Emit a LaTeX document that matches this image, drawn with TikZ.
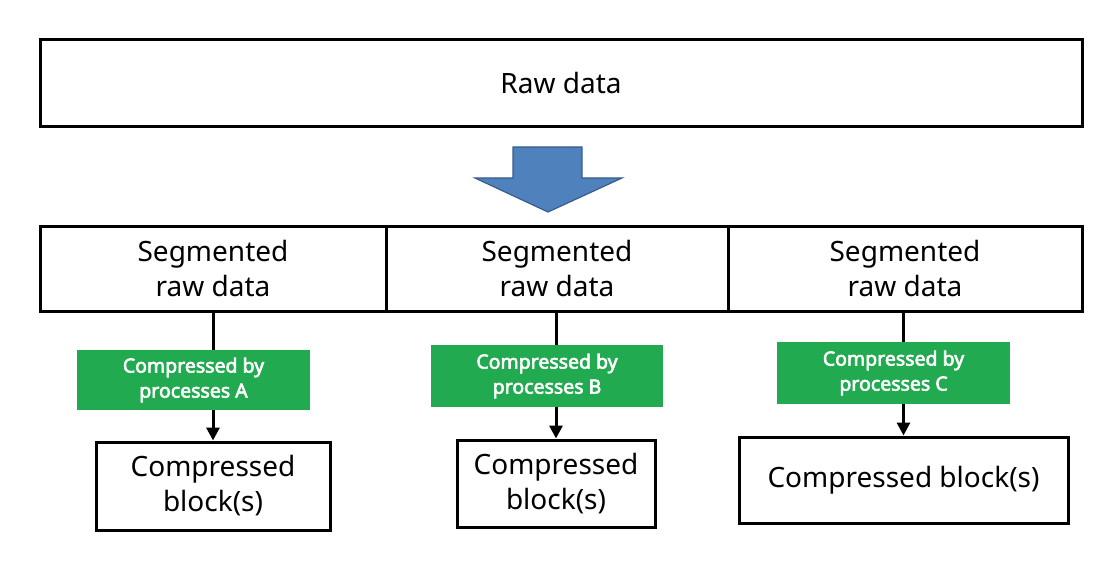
\documentclass[tikz,border=0pt]{standalone}
\usepackage{fontspec}
\setmainfont{Noto Sans}
\newfontfamily\greenfont{Noto Sans}[FakeBold=3]
\usetikzlibrary{arrows.meta}
\definecolor{pgreen}{RGB}{33,170,80}
\definecolor{pblue}{RGB}{79,129,189}
\definecolor{pblueedge}{RGB}{56,93,138}
\tikzset{
  box/.style={draw=black, line width=3pt, fill=white, inner sep=0pt, align=center,
    font=\fontsize{28}{35}\selectfont},
  greenbox/.style={fill=pgreen, draw=none, inner sep=0pt, align=center, text=white,
    font=\greenfont\fontsize{19.5}{25}\selectfont},
  conn/.style={line width=3pt, -{Triangle[length=13pt,width=13pt]}},
}
\begin{document}
\begin{tikzpicture}[x=1pt,y=-1pt]
\useasboundingbox (0,0) rectangle (1120,567);
% top box
\node[box, minimum width=1042pt, minimum height=87pt] (raw) at (561,83.5) {Raw data};
% big blue arrow
\draw[fill=pblue, draw=pblueedge, line width=1.2pt, line join=miter]
  (513,147) -- (582,147) -- (582,178) -- (622,178) -- (548,212) -- (475,178) -- (513,178) -- cycle;
% segmented boxes
\node[box, minimum width=346pt, minimum height=85pt] (seg1) at (213,268.5) {Segmented\\raw data};
\node[box, minimum width=342pt, minimum height=85pt] (seg2) at (557,268.5) {Segmented\\raw data};
\node[box, minimum width=354pt, minimum height=85pt] (seg3) at (905,268.5) {Segmented\\raw data};
% compressed blocks
\node[box, minimum width=234pt, minimum height=88pt] (comp1) at (213,486) {Compressed\\block(s)};
\node[box, minimum width=198pt, minimum height=87pt] (comp2) at (556,483.5) {Compressed\\block(s)};
\node[box, minimum width=329pt, minimum height=86pt] (comp3) at (903.5,480) {Compressed block(s)};
% connectors
\draw[conn] (seg1.south -| comp1.north) -- (comp1.north);
\draw[conn] (seg2.south -| comp2.north) -- (comp2.north);
\draw[conn] (seg3.south -| comp3.north) -- (comp3.north);
% green labels
\node[greenbox, minimum width=233pt, minimum height=60pt] (procA) at (193.5,380) {Compressed by\\processes A};
\node[greenbox, minimum width=232pt, minimum height=62pt] (procB) at (547,376) {Compressed by\\processes B};
\node[greenbox, minimum width=233pt, minimum height=62pt] (procC) at (893.5,373) {Compressed by\\processes C};
\end{tikzpicture}
\end{document}
